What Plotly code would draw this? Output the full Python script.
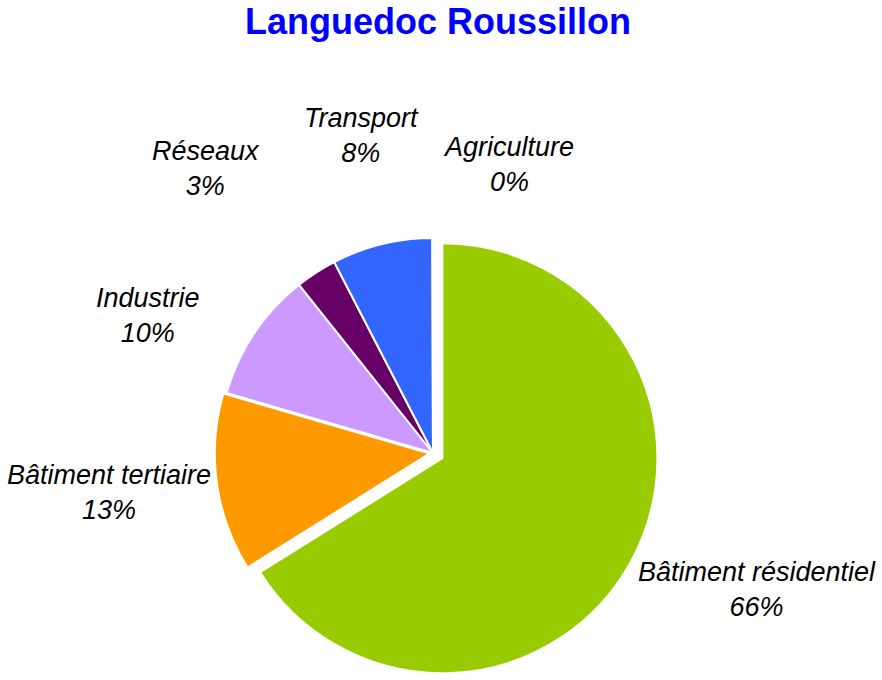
import plotly.graph_objects as go

# Data
categories = ["Bâtiment résidentiel", "Bâtiment tertiaire", "Industrie", "Réseaux", "Transport", "Agriculture"]
values = [66.1, 13.4, 9.8, 3.1, 7.55, 0.05]
colors = ["#99CC00", "#FF9900", "#CC99FF", "#660066", "#3366FF", "#99CCFF"]
pulls = [0.05, 0.015, 0, 0, 0, 0]

W, H = 882, 680
total = sum(values)
pcts = [round(v / total * 100) for v in values]

# label placement (pixel centres of label blocks, layout only)
label_px = [(757, 589), (109, 492), (148, 315), (206, 168), (361, 136), (508, 164)]

cx, cy, R = 433, 453, 215
half = R * (1 + max(pulls))

fig = go.Figure(go.Pie(
    labels=categories,
    values=values,
    marker=dict(colors=colors, line=dict(color="white", width=2)),
    pull=pulls,
    sort=False,
    direction="clockwise",
    rotation=0,
    textinfo="none",
    hoverinfo="label+percent",
    showlegend=False,
    domain=dict(x=[(cx - half) / W, (cx + half) / W],
                y=[1 - (cy + half) / H, 1 - (cy - half) / H]),
))

for cat, p, (px, py) in zip(categories, pcts, label_px):
    fig.add_annotation(
        x=px / W, y=1 - py / H, xref="paper", yref="paper",
        text=f"{cat}<br>{p}%", showarrow=False,
        xanchor="center", yanchor="middle", align="center",
        font=dict(family="Liberation Sans, Arial, sans-serif", size=27, color="black", style="italic"),
    )

fig.update_layout(
    width=W, height=H,
    margin=dict(l=0, r=0, t=0, b=0),
    paper_bgcolor="white", plot_bgcolor="white",
    title=dict(
        text="<b>Languedoc Roussillon</b>",
        x=438 / W, xanchor="center", y=1 - 21 / H, yanchor="middle", yref="container",
        font=dict(family="Liberation Sans, Arial, sans-serif", size=36, color="#0000FF"),
    ),
)

fig.write_html("out.html", config={"displayModeBar": False},
               post_script="document.body.style.margin='0';")
